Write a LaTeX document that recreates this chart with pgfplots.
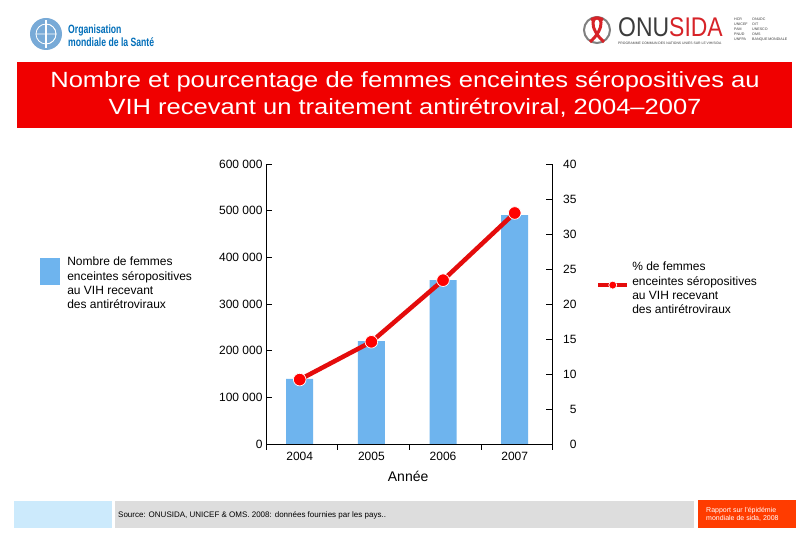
\documentclass[border=0pt]{standalone}
\usepackage{pgfplots}
\pgfplotsset{compat=1.18}
\usepackage{fontspec}
\setmainfont{Liberation Sans}
\definecolor{barblue}{RGB}{110,180,238}
\definecolor{linered}{RGB}{228,12,12}
\definecolor{titlered}{RGB}{240,0,0}
\definecolor{whoblue}{RGB}{0,110,185}
\definecolor{wholight}{RGB}{120,170,215}
\definecolor{footblue}{RGB}{204,234,252}
\definecolor{footgrey}{RGB}{221,221,221}
\definecolor{footorange}{RGB}{255,60,0}
\definecolor{onugrey}{RGB}{60,60,60}
\definecolor{onured}{RGB}{215,35,40}
\begin{document}
\begin{tikzpicture}[x=1pt,y=1pt]
\useasboundingbox (0,0) rectangle (810,540);
\fill[white] (0,0) rectangle (810,540);
% ---- header: WHO
\fill[wholight] (46,506) circle (16);
\draw[white, line width=0.8pt] (46,506) circle (10);
\draw[white, line width=1.2pt] (46,492) -- (46,520);
\draw[white, line width=0.6pt] (36,506) -- (56,506) (46,496) arc (-90:90:10);
\node[anchor=west, whoblue, font=\bfseries\fontsize{12}{13}\selectfont, inner sep=0pt] at (68,510) {\scalebox{0.72}[1]{Organisation}};
\node[anchor=west, whoblue, font=\bfseries\fontsize{12}{13}\selectfont, inner sep=0pt] at (68,497.5) {\scalebox{0.72}[1]{mondiale de la Santé}};
% ---- header: ONUSIDA
\draw[gray, line width=2pt] (597,510) circle (13);
\draw[onured, line width=3pt] (591,520) .. controls (603,528) and (606,512) .. (590,498);
\draw[onured, line width=3pt] (603,520) .. controls (591,528) and (588,512) .. (604,498);
\node[anchor=base west, inner sep=0pt, font=\fontsize{27}{29}\selectfont] at (618,503) {\scalebox{0.85}[1]{\textcolor{onugrey}{ONU}\textcolor{onured}{SIDA}}};
\node[anchor=north west, inner sep=0pt, font=\fontsize{3.4}{4}\selectfont, onugrey] at (618,498) {PROGRAMME COMMUN DES NATIONS UNIES SUR LE VIH/SIDA};
\node[anchor=north west, inner sep=0pt, align=left, font=\fontsize{3.6}{5}\selectfont, onugrey] at (734,522) {HCR\\UNICEF\\PAM\\PNUD\\UNFPA};
\node[anchor=north west, inner sep=0pt, align=left, font=\fontsize{3.6}{5}\selectfont, onugrey] at (752,522) {ONUDC\\OIT\\UNESCO\\OMS\\BANQUE MONDIALE};
% ---- title
\fill[titlered] (17,412) rectangle (792,478);
\node[white, align=center, font=\fontsize{22}{27}\selectfont] at (405,446) {\scalebox{1.16}[1]{Nombre et pourcentage de femmes enceintes séropositives au}\\\scalebox{1.16}[1]{VIH recevant un traitement antirétroviral, 2004–2007}};
% ---- footer
\fill[footblue] (14,11.5) rectangle (111.5,39);
\fill[footgrey] (115,11.5) rectangle (694,39);
\fill[footorange] (698,12) rectangle (795.5,39.5);
\node[anchor=west, inner sep=0pt, font=\fontsize{8}{9}\selectfont] at (118,25) {Source: ONUSIDA, UNICEF \& OMS. 2008: données fournies par les pays..};
\node[anchor=west, inner sep=0pt, align=left, white, font=\fontsize{7}{8.5}\selectfont] at (706,25.5) {Rapport sur l'épidémie\\mondiale de sida, 2008};
% ---- bars
\begin{axis}[
  at={(266pt,96pt)}, anchor=south west, scale only axis,
  width=286pt, height=280pt,
  xmin=-0.47, xmax=3.52, ymin=0, ymax=600000,
  scaled y ticks=false,
  axis x line*=bottom, axis y line*=left, axis line style={-, black, line width=0.8pt},
  ytick={0,100000,200000,300000,400000,500000,600000},
  yticklabels={0,100 000,200 000,300 000,400 000,500 000,600 000},
  ytick align=inside, xtick align=outside,
  major tick length=6pt,
  tick style={black, line width=0.8pt},
  xtick={-0.47,0.53,1.525,2.54,3.52}, xticklabels={},
  extra x ticks={0,1,2,3}, extra x tick labels={2004,2005,2006,2007},
  extra x tick style={major tick length=0pt, tick style={draw=none}, xticklabel style={yshift=-5pt}},
  ticklabel style={font=\fontsize{12}{14}\selectfont},
  xlabel={Année},
  x label style={at={(axis description cs:0.497,0)}, anchor=center, yshift=-32pt, font=\fontsize{14}{16}\selectfont},
  legend style={at={(axis description cs:-0.79,0.573)}, anchor=west, draw=none, fill=none,
    inner sep=0pt, column sep=5pt, font=\fontsize{12}{14.2}\selectfont,
    cells={anchor=west, align=left}},
  legend image code/.code={\fill[barblue] (0pt,-1.5pt) rectangle (20pt,25.5pt);},
]
\addplot[ybar, bar width=27pt, fill=barblue, draw=none] coordinates {(0,139300) (1,220700) (2,351400) (3,490700)};
\addlegendentry{Nombre de femmes\\enceintes séropositives\\au VIH recevant\\des antirétroviraux}
\end{axis}
% ---- percentage line
\begin{axis}[
  at={(266pt,96pt)}, anchor=south west, scale only axis,
  width=286pt, height=280pt,
  xmin=-0.47, xmax=3.52, ymin=0, ymax=40,
  axis x line=none, axis y line*=right, axis line style={-, black, line width=0.8pt},
  ytick={0,5,10,15,20,25,30,35,40},
  yticklabels={0,5,10,15,20,25,30,35,40},
  ytick align=inside, major tick length=6pt,
  tick style={black, line width=0.8pt},
  yticklabel style={anchor=east, xshift=28pt, font=\fontsize{12}{14}\selectfont},
  legend style={at={(axis description cs:1.154,0.555)}, anchor=west, draw=none, fill=none,
    inner sep=0pt, column sep=1pt, font=\fontsize{12}{14.2}\selectfont,
    cells={anchor=west, align=left}},
  legend image code/.code={\draw[#1, line width=4pt, mark size=4pt, mark repeat=2, mark phase=2] plot coordinates {(0pt,3.5pt) (14.5pt,3.5pt) (29pt,3.5pt)};},
]
\addplot[linered, line width=4.5pt, mark=*, mark size=6.3pt, mark options={fill=red, draw=white, line width=0.7pt}] coordinates {(0,9.2) (1,14.6) (2,23.4) (3,33.0)};
\addlegendentry{\% de femmes\\enceintes séropositives\\au VIH recevant\\des antirétroviraux}
\end{axis}
\end{tikzpicture}
\end{document}
